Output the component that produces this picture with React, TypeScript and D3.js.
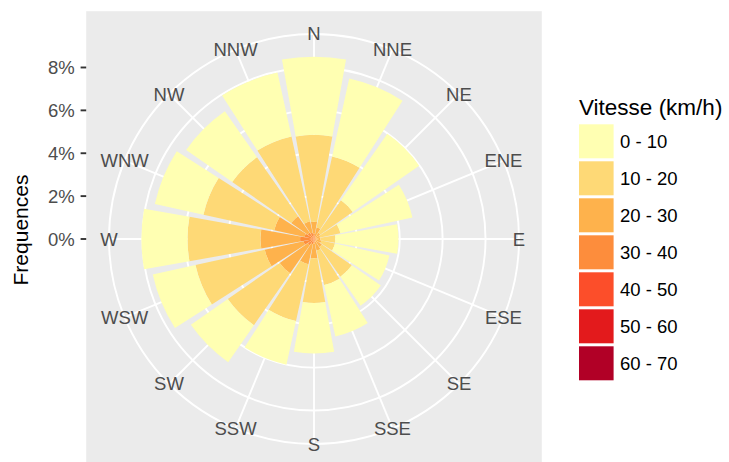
import React from 'react';
import * as d3 from 'd3';

const directions = ['N', 'NNE', 'NE', 'ENE', 'E', 'ESE', 'SE', 'SSE', 'S', 'SSW', 'SW', 'WSW', 'W', 'WNW', 'NW', 'NNW'];
const speedClasses = ['0 - 10', '10 - 20', '20 - 30', '30 - 40', '40 - 50', '50 - 60', '60 - 70'];
const speedColors = ['#FFFFB2', '#FED976', '#FEB24C', '#FD8D3C', '#FC4E2A', '#E31A1C', '#B10026'];

const freq0_10 = [3.64, 3.72, 3.78, 3.44, 2.94, 2.6, 1.65, 2.45, 2.36, 2.08, 2.1, 2.04, 2.15, 2.32, 2.62, 3.05];
const freq10_20 = [4.06, 3.39, 1.85, 0.96, 0.7, 0.65, 1.7, 1.65, 2.08, 2.72, 2.95, 3.31, 3.4, 3.38, 3.35, 4.05];
const freq20_30 = [0.55, 0.4, 0.25, 0.22, 0.22, 0.25, 0.35, 0.43, 0.7, 0.95, 1.6, 1.85, 1.85, 1.45, 0.95, 0.55];
const freq30_40 = [0.25, 0.15, 0.1, 0.08, 0.08, 0.1, 0.1, 0.12, 0.2, 0.25, 0.35, 0.5, 0.55, 0.45, 0.35, 0.3];
const freq40_50 = [0, 0, 0, 0, 0, 0, 0, 0, 0, 0, 0, 0, 0.1, 0, 0, 0];
const freq50_60 = [0, 0, 0, 0, 0, 0, 0, 0, 0, 0, 0, 0, 0, 0, 0, 0];
const freq60_70 = [0, 0, 0, 0, 0, 0, 0, 0, 0, 0, 0, 0, 0, 0, 0, 0];

const yTicks = [0, 2, 4, 6, 8];
const yTickLabels = ['0%', '2%', '4%', '6%', '8%'];
const legendTitle = 'Vitesse (km/h)';
const yTitle = 'Frequences';

const series = [freq0_10, freq10_20, freq20_30, freq30_40, freq40_50, freq50_60, freq60_70];

export default function App() {
  const width = 729;
  const height = 462;
  const panelSize = 455.6;
  const cx = 314;
  const cy = 239;
  const panelLeft = cx - panelSize / 2;
  const panelTop = cy - panelSize / 2;
  const rData = 0.4 * panelSize;
  const rOuter = 0.45 * panelSize;

  const rows = directions.map((d, i) => {
    const row: any = { dir: d };
    speedClasses.forEach((s, j) => {
      row[s] = series[j][i];
    });
    return row;
  });

  // stack from inner (highest speed) to outer (lowest speed)
  const stackKeys = speedClasses.slice().reverse();
  const stacked = d3.stack().keys(stackKeys)(rows);
  const maxTotal = d3.max(rows, (r: any) => d3.sum(speedClasses, (s) => r[s])) as number;

  const r = d3.scaleLinear().domain([0, maxTotal]).range([0, rData]);
  const theta = d3
    .scaleBand()
    .domain(directions)
    .range([0, 2 * Math.PI]);
  const step = theta.step();
  const angleOf = (d: string) => (theta(d) as number);
  const barHalf = (0.9 * step) / 2;

  const arc = d3.arc();
  const colorOf = d3.scaleOrdinal<string, string>().domain(speedClasses).range(speedColors);

  const font = "'Liberation Sans', Arial, Helvetica, sans-serif";
  const gridColor = '#FFFFFF';

  const legendX = 579;
  const legendKeyTop = 124.3;
  const keyW = 34.6;
  const keyH = 34;
  const keyPitch = 37;

  return (
    <svg
      width={width}
      height={height}
      style={{ position: 'absolute', left: 0, top: 0, background: '#FFFFFF' }}
      fontFamily={font}
    >
      <rect x={panelLeft} y={panelTop} width={panelSize} height={panelSize} fill="#EBEBEB" />
      {/* theta spokes */}
      {directions.map((d) => {
        const a = angleOf(d);
        return (
          <line
            key={'sp' + d}
            x1={cx}
            y1={cy}
            x2={cx + rOuter * Math.sin(a)}
            y2={cy - rOuter * Math.cos(a)}
            stroke={gridColor}
            strokeWidth={1.9}
          />
        );
      })}
      {/* r circles */}
      {yTicks.map((t) => (
        <circle key={'c' + t} cx={cx} cy={cy} r={r(t)} fill="none" stroke={gridColor} strokeWidth={1.9} />
      ))}
      <circle cx={cx} cy={cy} r={rOuter} fill="none" stroke={gridColor} strokeWidth={1.9} />
      {/* bars */}
      <g transform={`translate(${cx},${cy})`}>
        {stacked.map((layer: any) =>
          layer.map((seg: any, i: number) => {
            const d = directions[i];
            const a = angleOf(d);
            if (seg[1] - seg[0] <= 0) return null;
            const path = arc({
              innerRadius: r(seg[0]),
              outerRadius: r(seg[1]),
              startAngle: a - barHalf,
              endAngle: a + barHalf,
            } as any) as string;
            return <path key={layer.key + d} d={path} fill={colorOf(layer.key)} />;
          })
        )}
      </g>
      {/* theta labels */}
      {directions.map((d) => {
        const a = angleOf(d);
        return (
          <text
            key={'lb' + d}
            x={cx + rOuter * Math.sin(a)}
            y={cy - rOuter * Math.cos(a)}
            textAnchor="middle"
            dominantBaseline="central"
            fontSize={18.5}
            fill="#4D4D4D"
          >
            {d}
          </text>
        );
      })}
      {/* r axis */}
      {yTicks.map((t, i) => (
        <g key={'yt' + t}>
          <line x1={panelLeft - 5.6} x2={panelLeft} y1={cy - r(t)} y2={cy - r(t)} stroke="#333333" strokeWidth={1.9} />
          <text
            x={panelLeft - 11.5}
            y={cy - r(t)}
            textAnchor="end"
            dominantBaseline="central"
            fontSize={18.5}
            fill="#4D4D4D"
          >
            {yTickLabels[i]}
          </text>
        </g>
      ))}
      <text x={28} y={230} transform="rotate(-90 28 230)" textAnchor="middle" fontSize={21} fill="#000000">
        {yTitle}
      </text>
      {/* legend */}
      <text x={legendX} y={115} fontSize={22.5} fill="#000000">
        {legendTitle}
      </text>
      {speedClasses.map((s, i) => (
        <g key={'lg' + s}>
          <rect x={legendX} y={legendKeyTop + i * keyPitch} width={keyW} height={keyH} fill={colorOf(s)} />
          <text
            x={620}
            y={legendKeyTop + i * keyPitch + keyH / 2}
            dominantBaseline="central"
            fontSize={18.5}
            fill="#000000"
          >
            {s}
          </text>
        </g>
      ))}
    </svg>
  );
}
